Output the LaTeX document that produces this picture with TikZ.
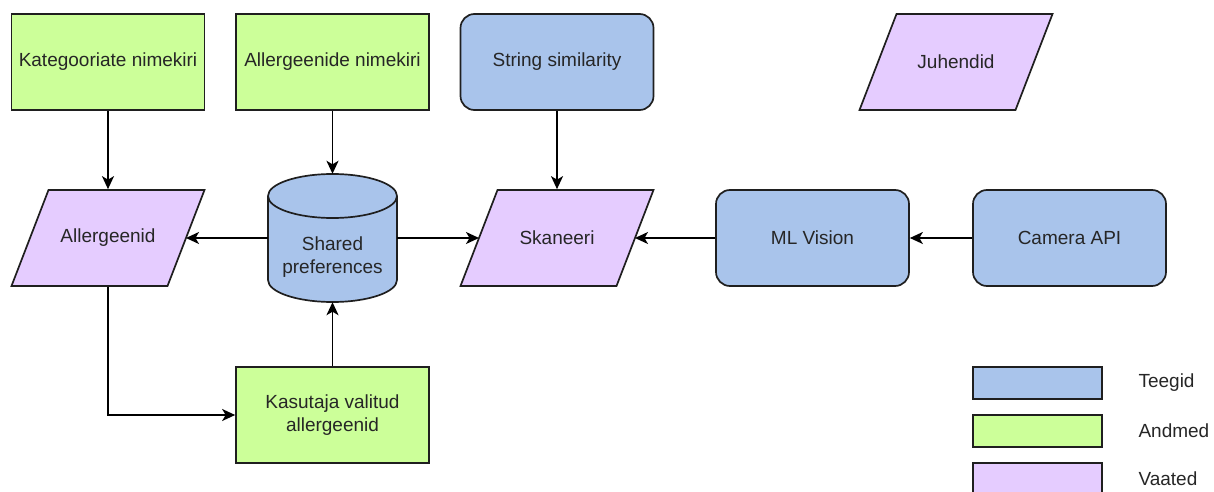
\documentclass[tikz,border=0pt]{standalone}
\usepackage{fontspec}
\setmainfont{Liberation Sans}
\usetikzlibrary{shapes.geometric,arrows.meta}
\definecolor{teek}{HTML}{A9C4EB}
\definecolor{andm}{HTML}{CCFF99}
\definecolor{vaat}{HTML}{E5CCFF}
\definecolor{edge}{HTML}{1F1F1F}
\tikzset{
  lw/.style={line width=1.7pt},
  txt/.style={font=\fontsize{19}{23}\selectfont, text=black!85},
  base/.style={draw=edge, lw, minimum width=193pt, minimum height=96pt,
    inner sep=0pt, align=center, txt},
  databox/.style={base, fill=andm},
  libbox/.style={base, fill=teek, rounded corners=14pt},
  viewbox/.style={base, draw=none},
  para/.style={draw=edge, lw, fill=vaat, line join=miter},
  conn/.style={lw, draw=black, -{Stealth[length=13pt,width=12pt,inset=3.5pt]}},
  legbox/.style={draw=edge, lw, minimum width=129pt, minimum height=32pt, inner sep=0pt},
  legtext/.style={anchor=west, txt}
}
\begin{document}
\begin{tikzpicture}[x=1pt,y=-1pt]
\useasboundingbox (0,0) rectangle (1214,492);
% top row
\node[databox] (kat) at (108,62) {Kategooriate nimekiri};
\node[databox] (aln) at (332.5,62) {Allergeenide nimekiri};
\node[libbox] (ss) at (557,62) {String similarity};
\path (956,62) node[viewbox] (juh) {};
\draw[para] ([xshift=-96.5pt,yshift=-48pt]juh.center) -- ([xshift=-59.5pt,yshift=48pt]juh.center)
  -- ([xshift=96.5pt,yshift=48pt]juh.center) -- ([xshift=59.5pt,yshift=-48pt]juh.center) -- cycle;
\node[viewbox] at (juh.center) {Juhendid};
% middle row
\path (108,238) node[viewbox] (all) {};
\draw[para] ([xshift=-96.5pt,yshift=-48pt]all.center) -- ([xshift=-59.5pt,yshift=48pt]all.center)
  -- ([xshift=96.5pt,yshift=48pt]all.center) -- ([xshift=59.5pt,yshift=-48pt]all.center) -- cycle;
\node[viewbox] at (all.center) {Allergeenid};
\fill[teek] (268,196) -- (268,280) arc[start angle=180, end angle=0, x radius=64.5, y radius=22]
  -- (397,196) arc[start angle=0, end angle=-180, x radius=64.5, y radius=22] -- cycle;
\draw[draw=edge, lw] (268,196) -- (268,280) arc[start angle=180, end angle=0, x radius=64.5, y radius=22]
  -- (397,196);
\draw[draw=edge, lw] (332.5,196) ellipse[x radius=64.5, y radius=22];
\node[minimum width=129pt, minimum height=128pt, inner sep=0pt] (sp) at (332.5,238) {};
\node[align=center, txt, inner sep=0pt] at ([yshift=-19.5pt]sp.center) {Shared\\preferences};
\path (557,238) node[viewbox] (sk) {};
\draw[para] ([xshift=-96.5pt,yshift=-48pt]sk.center) -- ([xshift=-59.5pt,yshift=48pt]sk.center)
  -- ([xshift=96.5pt,yshift=48pt]sk.center) -- ([xshift=59.5pt,yshift=-48pt]sk.center) -- cycle;
\node[viewbox] at (sk.center) {Skaneeri};
\node[libbox] (ml) at (812.5,238) {ML Vision};
\node[libbox] (cam) at (1069.5,238) {Camera API};
% bottom
\node[databox] (kas) at (332.5,415) {Kasutaja valitud\\allergeenid};
% edge points of the parallelograms at mid height
\coordinate (allR) at ([xshift=78pt]all.center);
\coordinate (skL) at ([xshift=-78pt]sk.center);
\coordinate (skR) at ([xshift=78pt]sk.center);
% connectors
\draw[conn] (kat) -- (all.north);
\draw[conn] (aln) -- (sp.north);
\draw[conn] (ss) -- (sk.north);
\draw[conn] (sp.west) -- (allR);
\draw[conn] (sp.east) -- (skL);
\draw[conn] (ml) -- (skR);
\draw[conn] (cam) -- (ml);
\draw[conn] (all.south) |- (kas.west);
\draw[conn] (kas.north) -- (sp.south);
% legend
\node[legbox, fill=teek] (lt) at (1037.5,383) {};
\node[legbox, fill=andm] (la) at (1037.5,431) {};
\begin{scope}
\clip (900,455) rectangle (1214,492);
\node[legbox, fill=vaat] (lv) at (1037.5,479) {};
\end{scope}
\node[legtext] (tt) at (1135,383) {Teegid};
\node[legtext] (ta) at (1135,431) {Andmed};
\node[legtext] (tv) at (1135,479) {Vaated};
\end{tikzpicture}
\end{document}
